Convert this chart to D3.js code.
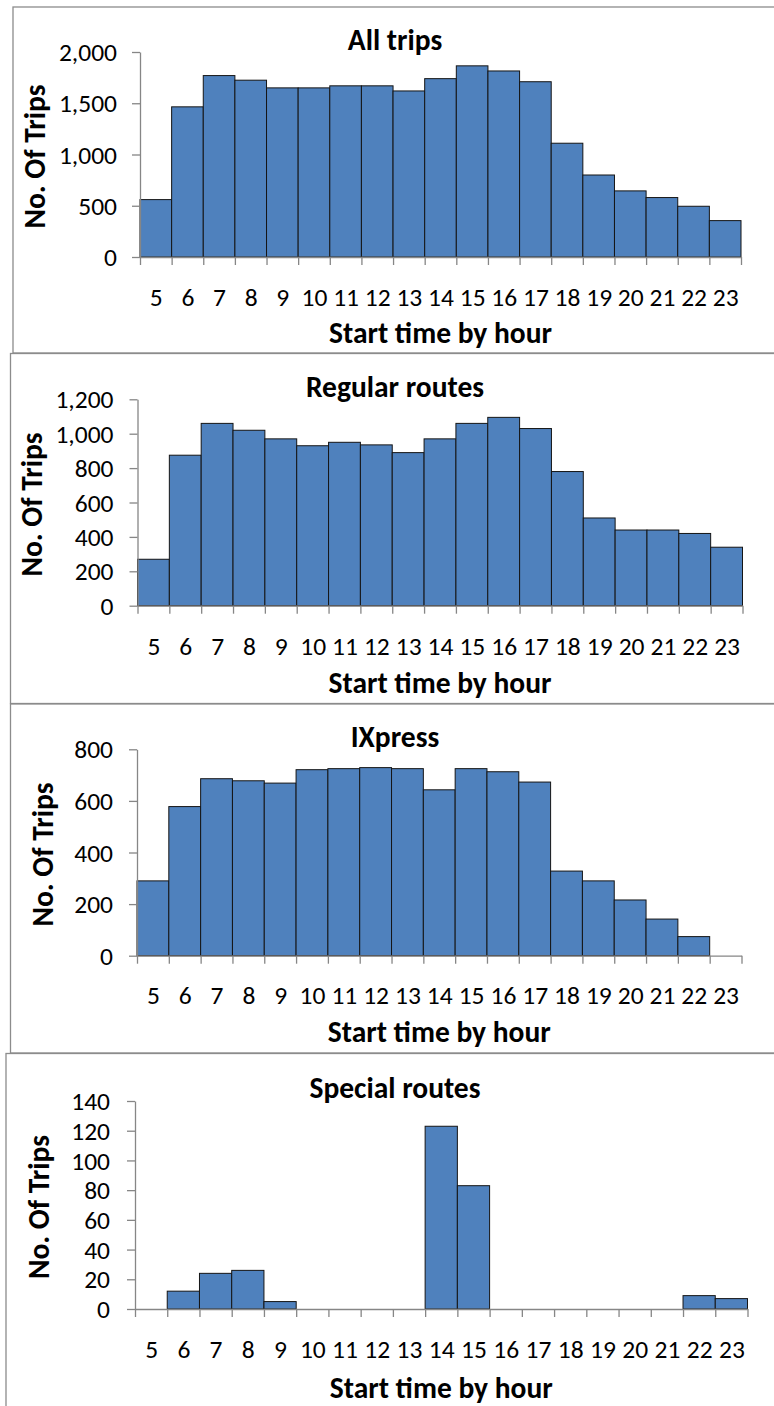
<!DOCTYPE html>
<html>
<head>
<meta charset="utf-8">
<script src="https://cdn.jsdelivr.net/npm/d3@7"></script>
<style>
  body { margin: 0; background: #fff; }
  svg { display: block; }
  text { font-family: Calibri, Carlito, "Open Sans", sans-serif; fill: #000; }
</style>
</head>
<body>
<div id="chart"></div>
<script>
// Trips by start hour, one histogram per route type

const hours = [5, 6, 7, 8, 9, 10, 11, 12, 13, 14, 15, 16, 17, 18, 19, 20, 21, 22, 23];

const allTrips      = [560, 1465, 1770, 1725, 1650, 1650, 1670, 1670, 1620, 1740, 1865, 1815, 1710, 1110, 800, 645, 580, 495, 355];
const regularRoutes = [270, 875, 1060, 1020, 970, 930, 950, 935, 890, 970, 1060, 1095, 1030, 780, 510, 440, 440, 420, 340];
const ixpress       = [290, 578, 686, 678, 669, 721, 725, 729, 725, 643, 725, 713, 673, 328, 290, 216, 142, 74, 0];
const specialRoutes = [0, 12, 24, 26, 5, 0, 0, 0, 0, 123, 83, 0, 0, 0, 0, 0, 0, 9, 7];

const allTicks     = [0, 500, 1000, 1500, 2000];
const regularTicks = [0, 200, 400, 600, 800, 1000, 1200];
const ixpressTicks = [0, 200, 400, 600, 800];
const specialTicks = [0, 20, 40, 60, 80, 100, 120, 140];

const titles = ["All trips", "Regular routes", "IXpress", "Special routes"];
const xTitle = "Start time by hour";
const yTitle = "No. Of Trips";

// layout of each panel (page pixels)
const panels = [
  { values: allTrips, ticks: allTicks,
    frame: { x: 13, y: 7, y2: 353 },
    plot: { left: 140, right: 741, top: 52, bottom: 257 },
    titleY: 50, yTitleX: 35, labelY: 306, xTitleY: 343, pad: 15 },
  { values: regularRoutes, ticks: regularTicks,
    frame: { x: 10.5, y: 353.5, y2: 703.5 },
    plot: { left: 137.5, right: 742.5, top: 399.3, bottom: 605.7 },
    titleY: 397, yTitleX: 32, labelY: 655, xTitleY: 693, pad: 16 },
  { values: ixpress, ticks: ixpressTicks,
    frame: { x: 10.5, y: 704, y2: 1053 },
    plot: { left: 137, right: 741.5, top: 749.3, bottom: 955.7 },
    titleY: 747, yTitleX: 43, labelY: 1004, xTitleY: 1042, pad: 16 },
  { values: specialRoutes, ticks: specialTicks,
    frame: { x: 6, y: 1053.5, y2: 1430 },
    plot: { left: 135, right: 747.5, top: 1101, bottom: 1309 },
    titleY: 1098, yTitleX: 39, labelY: 1358, xTitleY: 1398, pad: 17 }
];

const width = 774, height = 1406;
const axisColor = "#868686";
const labelSize = 25.5, boldSize = 29.5;

const svg = d3.select("#chart")
  .append("svg")
  .attr("width", width)
  .attr("height", height);

panels.forEach((p, i) => drawPanel(p, titles[i]));

function drawPanel(p, title) {
  // chart area border
  svg.append("rect")
    .attr("x", p.frame.x)
    .attr("y", p.frame.y)
    .attr("width", 800 - p.frame.x)
    .attr("height", p.frame.y2 - p.frame.y)
    .attr("fill", "#fff")
    .attr("stroke", "#8c8c8c")
    .attr("stroke-width", 1.3);

  const x = d3.scaleLinear()
    .domain([hours[0] - 0.5, hours[hours.length - 1] + 0.5])
    .range([p.plot.left, p.plot.right]);

  const y = d3.scaleLinear()
    .domain([0, d3.max(p.ticks)])
    .range([p.plot.bottom, p.plot.top]);

  const data = hours.map((h, k) => ({ hour: h, value: p.values[k] }));

  // bars
  svg.append("g")
    .selectAll("rect")
    .data(data.filter(d => d.value > 0))
    .enter().append("rect")
    .attr("x", d => x(d.hour - 0.5))
    .attr("y", d => y(d.value))
    .attr("width", d => x(d.hour + 0.5) - x(d.hour - 0.5))
    .attr("height", d => y(0) - y(d.value))
    .attr("fill", "#4f81bd")
    .attr("stroke", "#151515")
    .attr("stroke-width", 1);

  // y axis
  const yAxis = svg.append("g")
    .attr("transform", `translate(${p.plot.left},0)`)
    .call(d3.axisLeft(y)
      .tickValues(p.ticks)
      .tickSize(8)
      .tickSizeOuter(0)
      .tickPadding(p.pad)
      .tickFormat(d3.format(",")));
  yAxis.selectAll("path, line").attr("stroke", axisColor).attr("stroke-width", 1.3);
  yAxis.selectAll("text")
    .attr("font-size", labelSize)
    .attr("font-family", null)
    .attr("dy", "0.34em");

  // x axis: tick marks on bin edges
  const edges = hours.map(h => h - 0.5).concat([hours[hours.length - 1] + 0.5]);
  const xAxis = svg.append("g")
    .attr("transform", `translate(0,${p.plot.bottom})`)
    .call(d3.axisBottom(x)
      .tickValues(edges)
      .tickSize(8)
      .tickSizeOuter(0)
      .tickFormat(""));
  xAxis.selectAll("path, line").attr("stroke", axisColor).attr("stroke-width", 1.3);

  // x labels at bin centres
  const xLabels = svg.append("g")
    .attr("transform", `translate(0,${p.plot.bottom})`)
    .call(d3.axisBottom(x).tickValues(hours).tickSize(0).tickFormat(d3.format("d")));
  xLabels.select(".domain").remove();
  xLabels.selectAll("text")
    .attr("font-size", labelSize)
    .attr("font-family", null)
    .attr("y", p.labelY - p.plot.bottom)
    .attr("dy", null);

  // chart title
  svg.append("text")
    .attr("x", 395)
    .attr("y", p.titleY)
    .attr("text-anchor", "middle")
    .attr("font-size", boldSize)
    .attr("font-weight", "bold")
    .text(title);

  // axis titles
  svg.append("text")
    .attr("x", (p.plot.left + p.plot.right) / 2)
    .attr("y", p.xTitleY)
    .attr("text-anchor", "middle")
    .attr("font-size", boldSize)
    .attr("font-weight", "bold")
    .text(xTitle);

  const midY = (p.plot.top + p.plot.bottom) / 2 + 2;
  svg.append("text")
    .attr("transform", `translate(${p.yTitleX},${midY}) rotate(-90)`)
    .attr("text-anchor", "middle")
    .attr("dominant-baseline", "central")
    .attr("font-size", boldSize)
    .attr("font-weight", "bold")
    .text(yTitle);
}
</script>
</body>
</html>
